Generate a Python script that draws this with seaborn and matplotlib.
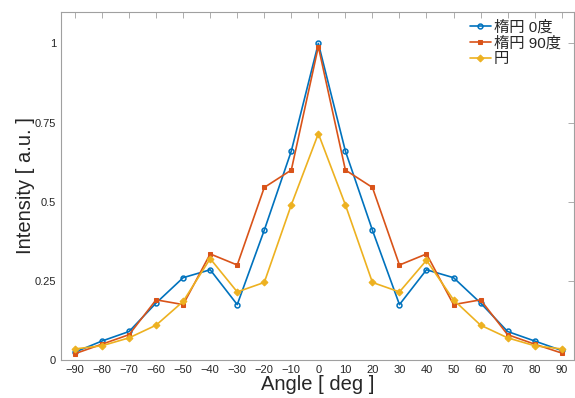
import numpy as np
import pandas as pd
import matplotlib
matplotlib.use("Agg")
import matplotlib.pyplot as plt
import seaborn as sns

angles = [-90, -80, -70, -60, -50, -40, -30, -20, -10, 0, 10, 20, 30, 40, 50, 60, 70, 80, 90]
ellipse_0 = [0.025, 0.06, 0.09, 0.18, 0.26, 0.285, 0.175, 0.41, 0.66, 1.0,
             0.66, 0.41, 0.175, 0.285, 0.26, 0.18, 0.09, 0.06, 0.03]
ellipse_90 = [0.02, 0.05, 0.08, 0.19, 0.175, 0.335, 0.30, 0.545, 0.60, 0.99,
              0.60, 0.545, 0.30, 0.335, 0.175, 0.19, 0.08, 0.05, 0.022]
circle = [0.035, 0.045, 0.07, 0.11, 0.185, 0.32, 0.215, 0.245, 0.49, 0.715,
          0.49, 0.245, 0.215, 0.315, 0.19, 0.11, 0.07, 0.045, 0.035]
names = ["楕円 0度", "楕円 90度", "円"]
colors = ["#0072BD", "#D95319", "#EDB120"]
markers = ["o", "s", "D"]

sns.set_style("white")
plt.rcParams['font.family'] = ['Liberation Sans', 'Noto Sans CJK JP']

fig = plt.figure(figsize=(5.75, 3.98), dpi=100)
ax = fig.add_axes([0.106, 0.0955, 0.892, 0.875])

for vals, name, c, m in zip([ellipse_0, ellipse_90, circle], names, colors, markers):
    df = pd.DataFrame({"angle": angles, "val": vals})
    if m == "o":
        kw = dict(markerfacecolor="none", markeredgecolor=c, markersize=3.5, markeredgewidth=1.1)
    elif m == "s":
        kw = dict(markerfacecolor=c, markeredgecolor=c, markersize=3.2)
    else:
        kw = dict(markerfacecolor=c, markeredgecolor=c, markersize=3.5)
    sns.lineplot(data=df, x="angle", y="val", ax=ax, color=c, marker=m,
                 linewidth=1.2, label=name, **kw)

ax.set_xlim(-95.2, 94.5)
ax.set_ylim(0, 1.1)
ax.set_xticks(angles)
ax.set_yticks([0, 0.25, 0.5, 0.75, 1])
ax.set_yticklabels(["0", "0.25", "0.5", "0.75", "1"])
ax.tick_params(direction="in", length=4, width=0.6, colors="#262626", labelsize=8,
               top=True, right=True, color="#a0a0a0")
for s in ax.spines.values():
    s.set_color("#a0a0a0")
    s.set_linewidth(0.8)
ax.set_xlabel("Angle [ deg ]", fontsize=14.5, color="#262626", labelpad=0)
ax.set_ylabel("Intensity [ a.u. ]", fontsize=14.5, color="#262626", labelpad=0)

leg = ax.legend(loc="upper right", frameon=False, fontsize=11, handlelength=1.4,
                handletextpad=0.2, borderaxespad=0.1, labelspacing=0.1,
                bbox_to_anchor=(0.99, 0.998))

fig.savefig("out.png", dpi=100)
